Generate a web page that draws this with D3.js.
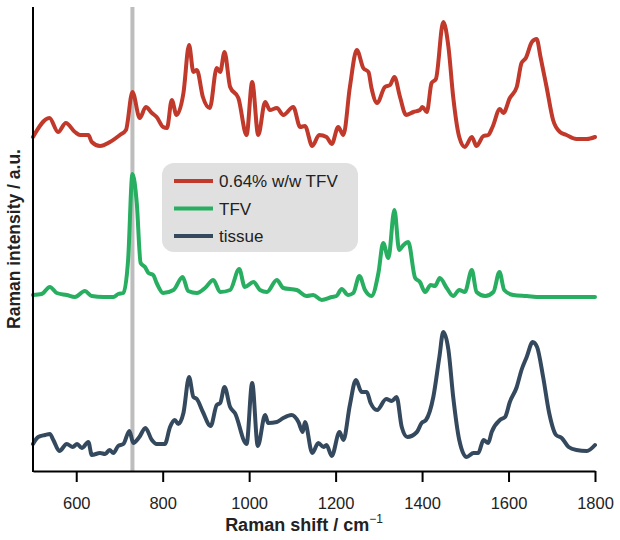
<!DOCTYPE html>
<html><head><meta charset="utf-8">
<script src="https://cdn.jsdelivr.net/npm/d3@7"></script>
<style>body{margin:0;background:#fff;}svg{display:block;font-family:"Liberation Sans",Arial,sans-serif;}</style>
</head><body><svg id="c" width="620" height="540"></svg>
<script>
// Data (wavenumber in cm^-1, intensity in arbitrary units incl. vertical offsets)
const redShift = [500,538,558,576,597,609,628,636,655,678,701,715,730,747,761,775,786,801,810,821,832,848,861,871,879,893,909,925,933,943,956,975,994,1007,1021,1037,1048,1064,1079,1102,1118,1129,1146,1162,1179,1191,1206,1218,1233,1249,1264,1276,1283,1296,1314,1326,1336,1349,1363,1380,1395,1401,1411,1422,1432,1449,1461,1472,1486,1499,1515,1526,1542,1553,1563,1580,1588,1603,1619,1630,1640,1654,1665,1674,1688,1703,1719,1734,1757,1781,1800];
const redValues = [334,353,339,348,339,336,336,329,325,329,336,341,379,353,364,358,354,344,343,371,356,378,426,399,401,374,363,403,399,419,384,373,336,389,336,369,361,363,356,364,344,345,325,336,334,327,344,336,384,421,403,399,383,368,384,386,394,374,356,359,361,364,359,388,392,449,424,374,334,324,334,325,335,336,344,362,358,373,384,408,413,429,432,414,384,351,339,336,332,332,334];

const greenShift = [500,520,539,555,578,597,620,636,663,686,697,709,720,730,740,749,759,767,778,786,801,825,846,859,879,898,917,933,956,977,990,1010,1025,1041,1064,1079,1110,1133,1148,1168,1191,1202,1214,1229,1241,1255,1268,1283,1299,1310,1322,1336,1347,1357,1368,1384,1395,1407,1420,1430,1441,1457,1472,1486,1499,1515,1526,1546,1565,1579,1590,1611,1642,1673,1704,1734,1765,1800];
const greenValues = [176,177,184,178,176,174,180,175,174,174,177,178,211,297,268,208,204,198,196,188,178,181,194,180,178,183,191,179,181,202,184,189,181,179,191,183,181,175,176,171,174,175,182,176,178,195,181,175,198,228,213,261,221,226,229,193,189,179,186,185,193,183,175,181,179,201,179,175,179,199,181,176,175,174,174,174,174,174];

const tissueShift = [500,512,528,539,547,561,578,592,602,613,628,636,655,667,677,686,697,709,723,732,746,760,775,786,805,817,828,836,848,861,871,879,893,911,925,933,943,956,967,994,1007,1020,1037,1044,1064,1079,1098,1114,1124,1129,1146,1160,1172,1179,1191,1209,1218,1233,1247,1260,1272,1281,1296,1317,1330,1341,1353,1366,1388,1399,1409,1426,1440,1449,1461,1472,1486,1503,1519,1530,1542,1553,1561,1580,1592,1603,1619,1630,1642,1656,1666,1680,1694,1710,1723,1739,1757,1781,1800];
const tissueValues = [27,34,36,37,31,20,27,24,27,23,29,16,18,17,21,18,25,27,40,28,34,43,31,27,27,44,51,47,58,94,74,72,59,45,66,68,84,64,58,27,88,25,56,48,49,53,56,49,39,49,18,28,24,26,15,39,31,66,91,79,79,68,61,72,70,74,44,34,39,48,51,74,114,139,121,74,31,14,18,18,31,28,39,51,54,69,84,101,114,129,124,94,58,36,33,24,21,20,26];

const seriesNames = ["0.64% w/w TFV", "TFV", "tissue"];
const seriesColors = ["#c0392b", "#27ae60", "#34495e"];
const xTicks = [600,800,1000,1200,1400,1600,1800];
const markerShift = 730;

const svg = d3.select("#c");
const x = d3.scaleLinear().domain([500,1800]).range([33,595]);
const y = d3.scaleLinear().domain([0,464]).range([471,7]);

// marker band
svg.append("line").attr("x1",x(markerShift)).attr("x2",x(markerShift))
  .attr("y1",y(464)).attr("y2",y(0)).attr("stroke","#bdbdbd").attr("stroke-width",4);

const series = [
  {shift: redShift, values: redValues},
  {shift: greenShift, values: greenValues},
  {shift: tissueShift, values: tissueValues}
];
const line = d3.line().curve(d3.curveMonotoneX);
series.forEach((s,i)=>{
  const pts = s.shift.map((w,j)=>[x(w), y(s.values[j])]);
  svg.append("path").attr("d", line(pts)).attr("fill","none")
    .attr("stroke", seriesColors[i]).attr("stroke-width",4)
    .attr("stroke-linejoin","round").attr("stroke-linecap","round");
});

// axes
const xAxis = d3.axisBottom(x).tickValues(xTicks).tickFormat(d3.format("d")).tickSize(11).tickSizeOuter(0);
const gx = svg.append("g").attr("transform",`translate(0,${y(0)})`).call(xAxis);
gx.select(".domain").attr("stroke","#000").attr("stroke-width",2);
gx.selectAll(".tick line").attr("stroke","#000").attr("stroke-width",2);
gx.selectAll(".tick text").attr("font-size",16.5).attr("fill","#222").attr("dy","1.45em")
  .attr("font-family","'Liberation Sans',Arial,sans-serif");
svg.append("line").attr("x1",x(500)).attr("x2",x(500)).attr("y1",y(464)).attr("y2",y(0)+1)
  .attr("stroke","#000").attr("stroke-width",2);

// axis titles
const xt = svg.append("text").attr("x",304).attr("y",531).attr("text-anchor","middle")
  .attr("font-size",18).attr("font-weight","bold").attr("fill","#222");
xt.append("tspan").text("Raman shift / cm");
xt.append("tspan").attr("dy",-8).attr("font-size",12).attr("font-weight","normal").text("\u22121");

svg.append("text").attr("transform","translate(20,239) rotate(-90)").attr("text-anchor","middle")
  .attr("font-size",17.5).attr("font-weight","bold").attr("fill","#222").text("Raman intensity / a.u.");

// legend
const lg = svg.append("g");
lg.append("rect").attr("x",162).attr("y",163).attr("width",196).attr("height",89)
  .attr("rx",12).attr("fill","#e0e0e0");
seriesNames.forEach((n,i)=>{
  const yy = 181 + i*27.5;
  lg.append("line").attr("x1",174).attr("x2",213).attr("y1",yy).attr("y2",yy)
    .attr("stroke",seriesColors[i]).attr("stroke-width",4);
  lg.append("text").attr("x",219).attr("y",yy).attr("dy","0.36em").attr("font-size",17)
    .attr("fill","#222").text(n);
});
</script></body></html>
